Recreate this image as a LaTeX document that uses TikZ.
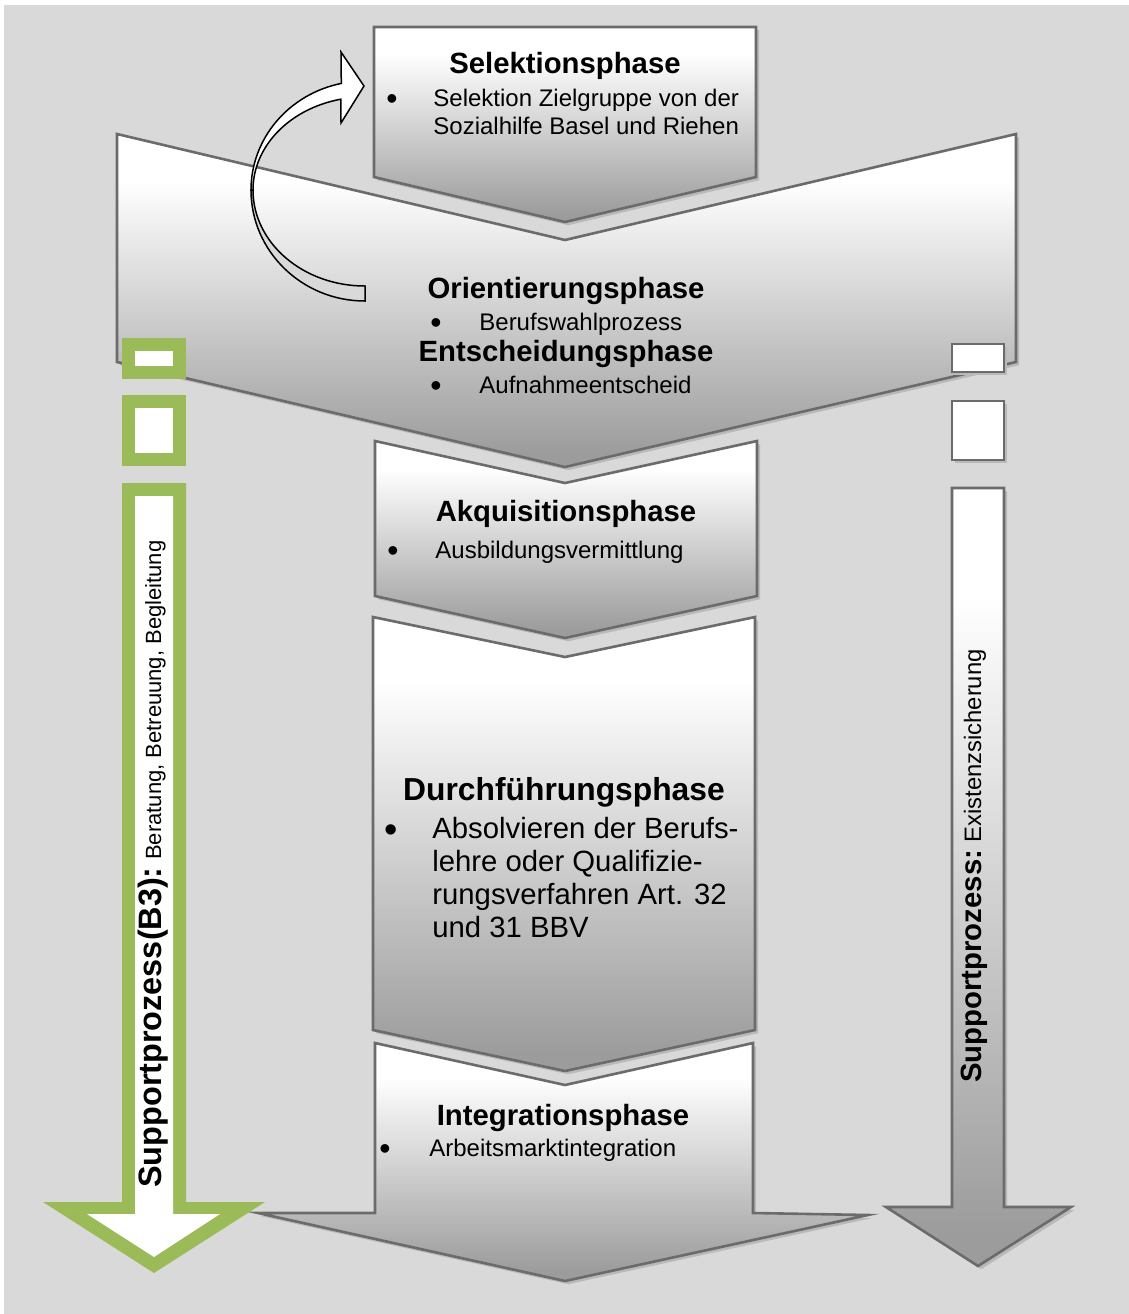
\documentclass[tikz,border=0pt]{standalone}
\usepackage{fontspec}
\setmainfont{Liberation Sans}
\usetikzlibrary{shadows}

\definecolor{canvasgray}{HTML}{D9D9D9}
\definecolor{edgegray}{HTML}{6B6B6B}
\definecolor{phgray}{HTML}{9C9C9C}
\definecolor{shadowgray}{HTML}{B9B9B9}
\definecolor{leafgreen}{HTML}{9BBB59}

% white upper part fading to grey at the bottom of each phase shape
\pgfdeclareverticalshading{phase}{100bp}{color(0bp)=(phgray); color(27bp)=(phgray); color(68bp)=(white); color(100bp)=(white)}

\begin{document}
\begin{tikzpicture}[x=0.5pt,y=-0.5pt,
  phasebox/.style={draw=edgegray, line width=1.3pt, line join=miter, shading=phase,
    drop shadow={shadow xshift=1.6pt, shadow yshift=-1.6pt, fill=shadowgray, opacity=1}},
  plainbox/.style={draw=edgegray, line width=1.3pt, fill=white,
    drop shadow={shadow xshift=1.6pt, shadow yshift=-1.6pt, fill=shadowgray, opacity=1}},
  greenframe/.style={fill=leafgreen},
  greenhole/.style={fill=white},
  arrowtop/.style={draw=black, line width=0.75pt, fill=white, line join=miter},
  arrowback/.style={draw=black, line width=0.75pt, fill=canvasgray},
  head/.style={font=\bfseries\fontsize{14.65}{17}\selectfont, inner sep=0pt, anchor=mid},
  bighead/.style={font=\bfseries\fontsize{15.9}{18}\selectfont, inner sep=0pt, anchor=mid},
  body/.style={font=\fontsize{12}{14}\selectfont, inner sep=0pt, anchor=mid west},
  bigbody/.style={font=\fontsize{14.65}{17}\selectfont, inner sep=0pt, anchor=mid west},
  bullet/.style={font=\fontsize{16}{14}\selectfont, inner sep=0pt, anchor=center},
  bigbullet/.style={font=\fontsize{19}{17}\selectfont, inner sep=0pt, anchor=center},
]

% page and grey canvas
\fill[white] (0,0) rectangle (1129,1314);
\useasboundingbox (0,0) rectangle (1129,1314);
\fill[canvasgray] (4,5) rectangle (1129,1314);

% Orientierungs-/Entscheidungsphase (wide chevron)
\path[phasebox] (117,134) -- (565,240) -- (1016,134) -- (1016,362) -- (565,467) -- (117,362) -- cycle;

% Selektionsphase
\path[phasebox] (374,27) -- (756,27) -- (756,177) -- (565,222) -- (374,177) -- cycle;

% curved return arrow
\path[arrowback] (251,190) arc[start angle=180, end angle=90, x radius=114, y radius=111]
  -- (365,286) arc[start angle=90, end angle=180, x radius=112, y radius=96] -- cycle;
\path[arrowtop] (341.3,83.4) arc[start angle=-102, end angle=-180, x radius=114, y radius=109]
  -- (253,190) arc[start angle=180, end angle=257.6, x radius=112, y radius=93]
  -- (341,123) -- (364,86) -- (341,52) -- cycle;

% Akquisitionsphase
\path[phasebox] (375,441) -- (565,483) -- (757,441) -- (757,596) -- (565,638) -- (375,596) -- cycle;

% Durchfuehrungsphase
\path[phasebox] (373,617) -- (565,657) -- (755,617) -- (755,1030) -- (565,1071) -- (373,1030) -- cycle;

% Integrationsphase (final arrow)
\path[phasebox] (375,1043) -- (565,1085) -- (753,1043) -- (753,1213) -- (868,1215)
  -- (565,1281) -- (258,1213) -- (375,1213) -- cycle;

% left support process: green outlined blocks and arrow
\fill[greenframe] (122,338) rectangle (186,379);
\fill[greenhole] (135,351) rectangle (173,366);
\fill[greenframe] (122,395) rectangle (186,466);
\fill[greenhole] (135,408) rectangle (173,453);
\fill[greenframe] (122,483) -- (186,483) -- (186,1202) -- (265,1202) -- (154,1273) -- (43,1202) -- (122,1202) -- cycle;
\fill[greenhole] (135,496) -- (173,496) -- (173,1214) -- (220,1214) -- (154,1257) -- (87,1214) -- (135,1214) -- cycle;

% right support process: grey blocks and arrow
\path[plainbox] (952,344) rectangle (1004,372);
\path[plainbox] (952,401) rectangle (1004,460);
\path[phasebox] (952,488) -- (1004,488) -- (1004,1207) -- (1071,1207) -- (978,1266) -- (886,1207) -- (952,1207) -- cycle;

% texts of the phases
\node[head] (selhead) at (565,68) {Selektionsphase};
\node[bullet] (selbul) at (392,102) {•};
\node[body] (sel1) at (433,101) {Selektion Zielgruppe von der};
\node[body] (sel2) at (433,129) {Sozialhilfe Basel und Riehen};

\node[head] (orihead) at (566,293) {Orientierungsphase};
\node[bullet] (oribul) at (436,326) {•};
\node[body] (ori1) at (479,325) {Berufswahlprozess};
\node[head] (enthead) at (566,356) {Entscheidungsphase};
\node[bullet] (entbul) at (436,389) {•};
\node[body] (ent1) at (479,388) {Aufnahmeentscheid};

\node[head] (akqhead) at (566,516) {Akquisitionsphase};
\node[bullet] (akqbul) at (393,554) {•};
\node[body] (akq1) at (435,553) {Ausbildungsvermittlung};

\node[bighead] (durhead) at (564,795) {Durchführungsphase};
\node[bigbullet] (durbul) at (391,834) {•};
\node[bigbody] (dur1) at (432,833) {Absolvieren der Berufs-};
\node[bigbody] (dur2) at (432,866) {lehre oder Qualifizie-};
\node[bigbody] (dur3) at (432,899) {rungsverfahren Art. 32};
\node[bigbody] (dur4) at (432,932) {und 31 BBV};

\node[head] (inthead) at (563,1120) {Integrationsphase};
\node[bullet] (intbul) at (385,1152) {•};
\node[body] (int1) at (429,1151) {Arbeitsmarktintegration};

% vertical labels of the support processes
\node[rotate=90, anchor=base west, inner sep=0pt] (supleft) at (161,1188)
  {{\bfseries\fontsize{16.2}{18}\selectfont Supportprozess(B3):} {\fontsize{11}{13}\selectfont Beratung, Betreuung, Begleitung}};
\node[rotate=90, anchor=base west, inner sep=0pt] (supright) at (981,1083)
  {{\bfseries\fontsize{14.65}{17}\selectfont Supportprozess:} {\fontsize{11.9}{14}\selectfont Existenzsicherung}};

\end{tikzpicture}
\end{document}
